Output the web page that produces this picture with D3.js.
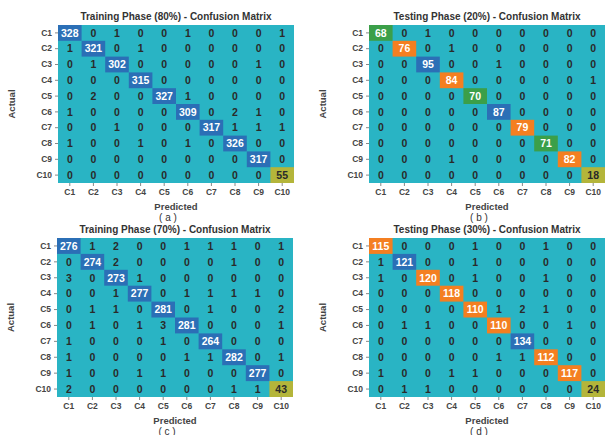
<!DOCTYPE html>
<html>
<head>
<meta charset="utf-8">
<script src="https://cdn.jsdelivr.net/npm/d3@7"></script>
<style>
  body { margin: 0; background: #fff; }
  svg { font-family: "Liberation Sans", Arial, sans-serif; }
</style>
</head>
<body>
<div id="chart"></div>
<script>
var classes = ["C1", "C2", "C3", "C4", "C5", "C6", "C7", "C8", "C9", "C10"];

var train80 = [
    [328, 0, 1, 0, 0, 1, 0, 0, 0, 1],
    [1, 321, 0, 1, 0, 0, 0, 0, 0, 0],
    [0, 1, 302, 0, 0, 0, 0, 0, 1, 0],
    [0, 0, 0, 315, 0, 0, 0, 0, 0, 0],
    [0, 2, 0, 0, 327, 1, 0, 0, 0, 0],
    [1, 0, 0, 0, 0, 309, 0, 2, 1, 0],
    [0, 0, 1, 0, 0, 0, 317, 1, 1, 1],
    [1, 0, 0, 1, 0, 1, 0, 326, 0, 0],
    [0, 0, 0, 0, 0, 0, 0, 0, 317, 0],
    [0, 0, 0, 0, 0, 0, 0, 0, 0, 55]
];
var test20 = [
    [68, 0, 1, 0, 0, 0, 0, 0, 0, 0],
    [0, 76, 0, 1, 0, 0, 0, 0, 0, 0],
    [0, 0, 95, 0, 0, 1, 0, 0, 0, 0],
    [0, 0, 0, 84, 0, 0, 0, 0, 0, 1],
    [0, 0, 0, 0, 70, 0, 0, 0, 0, 0],
    [0, 0, 0, 0, 0, 87, 0, 0, 0, 0],
    [0, 0, 0, 0, 0, 0, 79, 0, 0, 0],
    [0, 0, 0, 0, 0, 0, 0, 71, 0, 0],
    [0, 0, 0, 1, 0, 0, 0, 0, 82, 0],
    [0, 0, 0, 0, 0, 0, 0, 0, 0, 18]
];
var train70 = [
    [276, 1, 2, 0, 0, 1, 1, 1, 0, 1],
    [0, 274, 2, 0, 0, 0, 0, 1, 0, 0],
    [3, 0, 273, 1, 0, 0, 0, 0, 0, 0],
    [0, 0, 1, 277, 0, 1, 1, 1, 1, 0],
    [0, 1, 1, 0, 281, 0, 1, 0, 0, 2],
    [0, 1, 0, 1, 3, 281, 0, 0, 0, 1],
    [1, 0, 0, 0, 1, 0, 264, 0, 0, 0],
    [1, 0, 0, 0, 0, 1, 1, 282, 0, 1],
    [1, 0, 0, 1, 1, 0, 0, 0, 277, 0],
    [2, 0, 0, 0, 0, 0, 0, 1, 1, 43]
];
var test30 = [
    [115, 0, 0, 0, 1, 0, 0, 1, 0, 0],
    [1, 121, 0, 0, 1, 0, 0, 0, 0, 0],
    [1, 0, 120, 0, 1, 0, 0, 1, 0, 0],
    [0, 0, 0, 118, 0, 0, 0, 0, 0, 0],
    [0, 0, 0, 0, 110, 1, 2, 1, 0, 0],
    [0, 1, 1, 0, 0, 110, 0, 0, 1, 0],
    [0, 0, 0, 0, 0, 0, 134, 0, 0, 0],
    [0, 0, 0, 0, 0, 1, 1, 112, 0, 0],
    [1, 0, 0, 1, 1, 0, 0, 0, 117, 0],
    [0, 1, 1, 0, 0, 0, 0, 0, 0, 24]
];

var titles = [
    "Training Phase (80%) - Confusion Matrix",
    "Testing Phase (20%) - Confusion Matrix",
    "Training Phase (70%) - Confusion Matrix",
    "Testing Phase (30%) - Confusion Matrix"
];
var captions = ["( a )", "( b )", "( c )", "( d )"];
var matrices = [train80, test20, train70, test30];

var width = 605, height = 435;
var svg = d3.select('#chart').append('svg')
    .attr('width', width)
    .attr('height', height);

// panel boxes (matrix area)
var panels = [
    {x: 58, y: 25, w: 236, h: 158},
    {x: 369, y: 25, w: 236, h: 158},
    {x: 57, y: 238, w: 236, h: 159},
    {x: 369, y: 238, w: 236, h: 159}
];

// colour by share of the panel maximum
var colorScale = d3.scaleThreshold()
    .domain([0.1, 0.5, 0.78, 0.9])
    .range(["#29b4c4", "#b4b53a", "#3b9f49", "#f47f21", "#2b6fb6"]);

matrices.forEach(function (m, p) {
    var box = panels[p];
    var g = svg.append('g').attr('transform', 'translate(' + box.x + ',' + box.y + ')');
    var maxVal = d3.max(m, function (r) { return d3.max(r); });

    var x = d3.scaleBand().domain(classes).range([0, box.w]);
    var y = d3.scaleBand().domain(classes).range([0, box.h]);

    var cells = [];
    m.forEach(function (row, i) {
        row.forEach(function (v, j) {
            cells.push({r: classes[i], c: classes[j], v: v});
        });
    });

    g.append('rect')
        .attr('width', box.w).attr('height', box.h)
        .attr('fill', colorScale(0));

    g.selectAll('rect.cell')
        .data(cells.filter(function (d) { return colorScale(d.v / maxVal) !== colorScale(0); }))
        .enter().append('rect')
        .attr('class', 'cell')
        .attr('x', function (d) { return x(d.c); })
        .attr('y', function (d) { return y(d.r); })
        .attr('width', x.bandwidth())
        .attr('height', y.bandwidth())
        .attr('fill', function (d) { return colorScale(d.v / maxVal); });

    g.selectAll('text.val')
        .data(cells)
        .enter().append('text')
        .attr('class', 'val')
        .attr('x', function (d) { return x(d.c) + x.bandwidth() / 2; })
        .attr('y', function (d) { return y(d.r) + y.bandwidth() / 2; })
        .attr('dy', '0.36em')
        .attr('text-anchor', 'middle')
        .attr('font-size', 10.5)
        .attr('font-weight', 'bold')
        .attr('fill', function (d) {
            var s = d.v / maxVal;
            return s >= 0.5 ? '#ffffff' : '#2a2a2a';
        })
        .text(function (d) { return d.v; });

    var axisStyle = function (sel) {
        sel.select('.domain').remove();
        sel.selectAll('.tick line').attr('stroke', '#888');
        sel.selectAll('.tick text')
            .attr('font-size', 8.5)
            .attr('font-weight', 'bold')
            .attr('fill', '#444')
            .attr('font-family', '"Liberation Sans", Arial, sans-serif');
    };

    g.append('g')
        .attr('transform', 'translate(0,' + box.h + ')')
        .call(d3.axisBottom(x).tickSize(3).tickPadding(3))
        .call(axisStyle);

    g.append('g')
        .call(d3.axisLeft(y).tickSize(3).tickPadding(3))
        .call(axisStyle);

    g.append('text')
        .attr('x', box.w / 2).attr('y', -5)
        .attr('text-anchor', 'middle')
        .attr('font-size', 10)
        .attr('font-weight', 'bold')
        .attr('fill', '#333')
        .text(titles[p]);

    g.append('text')
        .attr('x', box.w / 2).attr('y', box.h + 27)
        .attr('text-anchor', 'middle')
        .attr('font-size', 9.5)
        .attr('font-weight', 'bold')
        .attr('fill', '#444')
        .text('Predicted');

    g.append('text')
        .attr('transform', 'translate(' + (-43) + ',' + (box.h / 2) + ') rotate(-90)')
        .attr('text-anchor', 'middle')
        .attr('font-size', 9.5)
        .attr('font-weight', 'bold')
        .attr('fill', '#444')
        .text('Actual');

    g.append('text')
        .attr('x', box.w / 2 - 8).attr('y', box.h + 38)
        .attr('text-anchor', 'middle')
        .attr('font-size', 10)
        .attr('fill', '#333')
        .text(captions[p]);
});
</script>
</body>
</html>
